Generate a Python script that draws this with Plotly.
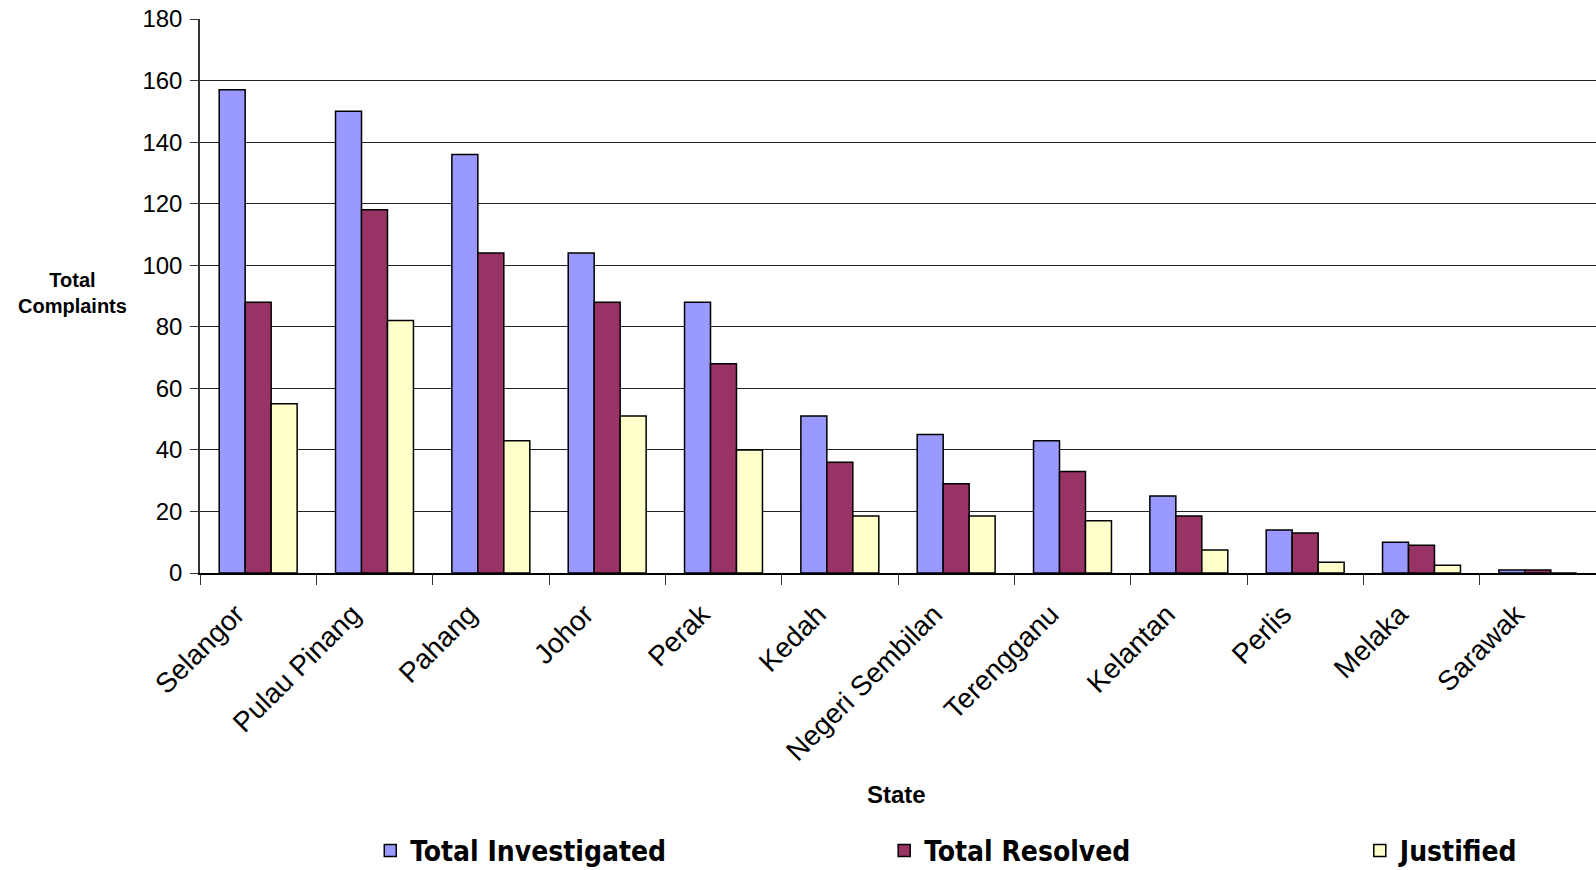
import plotly.graph_objects as go

states = ["Selangor", "Pulau Pinang", "Pahang", "Johor", "Perak", "Kedah",
          "Negeri Sembilan", "Terengganu", "Kelantan", "Perlis", "Melaka", "Sarawak"]
total_investigated = [157, 150, 136, 104, 88, 51, 45, 43, 25, 14, 10, 1]
total_resolved = [88, 118, 104, 88, 68, 36, 29, 33, 18.5, 13, 9, 1]
justified = [55, 82, 43, 51, 40, 18.5, 18.5, 17, 7.5, 3.5, 2.5, 0]

series = [
    ("Total Investigated", total_investigated, "#9999FF", "legend", 0.232),
    ("Total Resolved", total_resolved, "#993366", "legend2", 0.554),
    ("Justified", justified, "#FFFFCC", "legend3", 0.852),
]

fig = go.Figure()
for name, vals, color, lg, _ in series:
    fig.add_trace(go.Bar(
        x=states, y=vals, name=name, legend=lg,
        marker=dict(color=color, line=dict(color="#000000", width=1.5)),
    ))

font_main = "Liberation Sans, Arial, sans-serif"
legend_font = dict(family="Liberation Sans Narrow, Arial Narrow, DejaVu Sans Condensed, sans-serif",
                   size=28, color="#000000", weight="bold")

layout_legends = {}
for name, vals, color, lg, lx in series:
    layout_legends[lg] = dict(
        orientation="h", x=lx, y=0.022, xref="container", yref="container",
        xanchor="left", yanchor="middle",
        font=legend_font, bgcolor="rgba(0,0,0,0)", itemwidth=30,
        traceorder="normal",
    )

fig.update_layout(
    width=1596, height=870,
    margin=dict(l=199.5, r=0, t=19, b=297, autoexpand=False),
    paper_bgcolor="white", plot_bgcolor="white",
    barmode="group", bargap=0.33, bargroupgap=0.0,
    font=dict(family=font_main, color="#000000"),
    showlegend=True,
    **layout_legends,
    xaxis=dict(
        type="category", tickangle=-45, tickfont=dict(size=28, family=font_main),
        showline=True, linecolor="#000000", linewidth=1.5,
        ticks="outside", ticklen=10, tickcolor="#333333", tickwidth=1,
        tickson="boundaries", showgrid=False,
        ticklabelstandoff=12, ticklabelshift=-22,
    ),
    yaxis=dict(
        range=[0, 180], dtick=20, tickfont=dict(size=24, family=font_main),
        showline=True, linecolor="#333333", linewidth=1.5,
        ticks="outside", ticklen=8, tickcolor="#333333", tickwidth=1,
        ticklabelstandoff=3,
        showgrid=True, gridcolor="#222222", gridwidth=1, zeroline=False,
    ),
    annotations=[
        dict(text="<b>Total<br>Complaints</b>", xref="paper", yref="paper",
             x=-0.0913, y=0.505, xanchor="center", yanchor="middle", showarrow=False,
             font=dict(size=20, family=font_main, color="#000000")),
        dict(text="<b>State</b>", xref="paper", yref="paper",
             x=0.499, y=-0.399, xanchor="center", yanchor="middle", showarrow=False,
             font=dict(size=24, family=font_main, color="#000000")),
    ],
)

fig.write_html("out.html")
